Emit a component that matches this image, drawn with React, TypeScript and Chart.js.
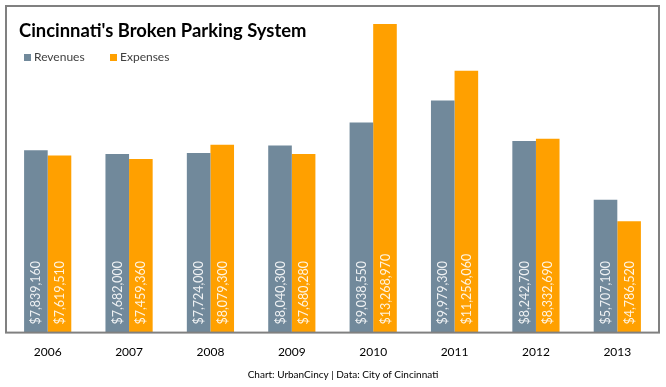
import React, { useEffect, useRef } from "react";
import { Chart, registerables } from "chart.js";

Chart.register(...registerables);

const categories = ["2006", "2007", "2008", "2009", "2010", "2011", "2012", "2013"];
const revenues = [7839160, 7682000, 7724000, 8040300, 9038550, 9979300, 8242700, 5707100];
const expenses = [7619510, 7459360, 8079300, 7680280, 13268970, 11256060, 8332690, 4786520];
const seriesNames = ["Revenues", "Expenses"];
const seriesColors = ["#71899B", "#FFA000"];
const titleText = "Cincinnati's Broken Parking System";
const footerText = "Chart: UrbanCincy | Data: City of Cincinnati";
const yMax = 14000000;

const FONT = 'Lato, "Open Sans", sans-serif';

const fmt = (v: number) => "$" + v.toLocaleString("en-US");

const decorPlugin = {
  id: "decor",
  afterDatasetsDraw(chart: any) {
    const ctx = chart.ctx;
    ctx.save();
    ctx.font = `12.5px ${FONT}`;
    ctx.fillStyle = "rgba(255,255,255,0.88)";
    ctx.textAlign = "left";
    ctx.textBaseline = "middle";
    chart.data.datasets.forEach((ds: any, di: number) => {
      const meta = chart.getDatasetMeta(di);
      meta.data.forEach((bar: any, i: number) => {
        const { x, base } = bar.getProps(["x", "base"], true);
        ctx.save();
        ctx.translate(x + 0.5, base - 8);
        ctx.rotate(-Math.PI / 2);
        ctx.fillText(fmt(ds.data[i]), 0, 0);
        ctx.restore();
      });
    });
    ctx.restore();
  },
  afterDraw(chart: any) {
    const ctx = chart.ctx;
    const ca = chart.chartArea;
    ctx.save();
    // frame
    ctx.strokeStyle = "#808080";
    ctx.lineWidth = 2;
    ctx.strokeRect(6, 6, ca.right + 1 - 6, ca.bottom - 6);
    // title
    ctx.fillStyle = "#000000";
    ctx.font = `bold 18.4px ${FONT}`;
    ctx.textAlign = "left";
    ctx.textBaseline = "alphabetic";
    ctx.fillText(titleText, 19, 37);
    // legend
    ctx.font = `12px ${FONT}`;
    ctx.textBaseline = "middle";
    const legendX = [24, 110];
    chart.data.datasets.forEach((ds: any, di: number) => {
      const lx = legendX[di];
      ctx.fillStyle = ds.backgroundColor;
      ctx.fillRect(lx, 54, 7, 7);
      ctx.fillStyle = "#404040";
      ctx.fillText(ds.label, lx + 10, 57.5);
    });
    // footer
    ctx.fillStyle = "#000000";
    ctx.font = `10px ${FONT}`;
    ctx.textAlign = "center";
    ctx.fillText(footerText, 343, 375);
    ctx.restore();
  },
};

export default function App() {
  const ref = useRef<HTMLCanvasElement | null>(null);
  useEffect(() => {
    if (!ref.current) return;
    const chart = new Chart(ref.current, {
      type: "bar",
      data: {
        labels: categories,
        datasets: [
          { label: seriesNames[0], data: revenues, backgroundColor: seriesColors[0] },
          { label: seriesNames[1], data: expenses, backgroundColor: seriesColors[1] },
        ],
      },
      options: {
        responsive: false,
        animation: false,
        devicePixelRatio: 1,
        layout: { padding: { left: 7, right: 8, top: 7, bottom: 24 } },
        datasets: { bar: { barPercentage: 1, categoryPercentage: 0.58 } },
        plugins: { legend: { display: false }, title: { display: false }, tooltip: { enabled: false } },
        scales: {
          x: {
            grid: { display: false },
            border: { display: false },
            ticks: { color: "#000000", font: { family: FONT, size: 12 }, padding: 4 },
          },
          y: { display: false, min: 0, max: yMax },
        },
      },
      plugins: [decorPlugin],
    });
    return () => chart.destroy();
  }, []);
  return (
    <div style={{ position: "absolute", left: 0, top: 0, width: 666, height: 387, background: "#fff" }}>
      <canvas ref={ref} width={666} height={387} />
    </div>
  );
}
